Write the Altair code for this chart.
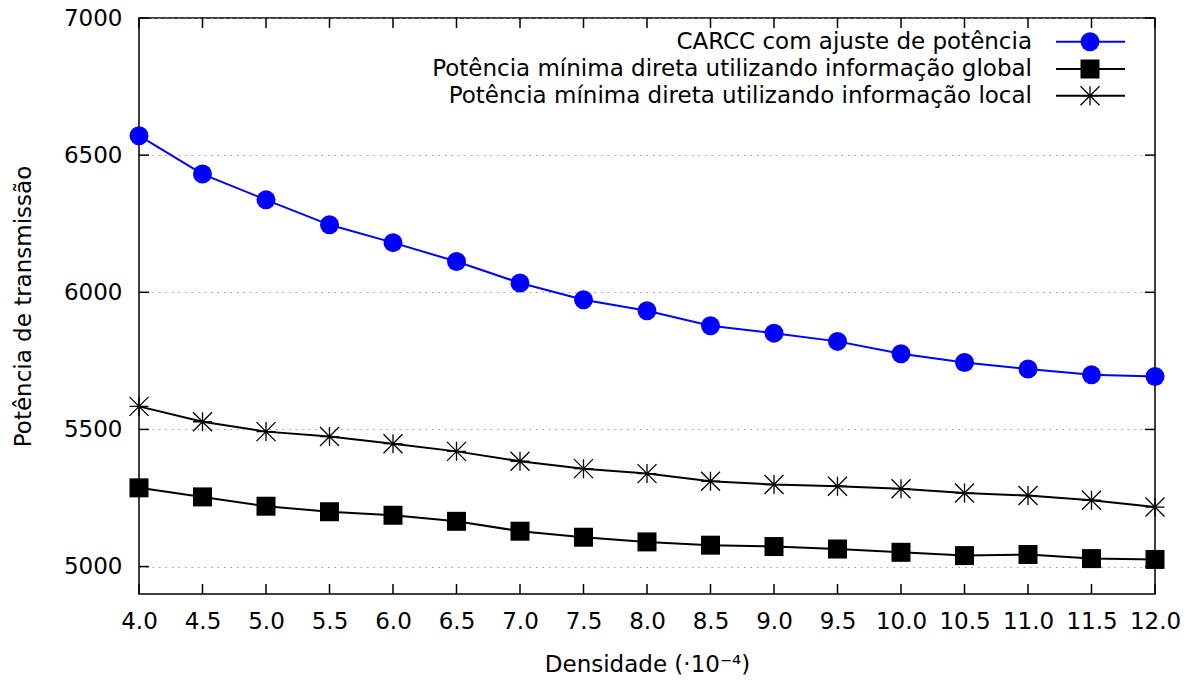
import altair as alt
import pandas as pd

densidade = [4.0, 4.5, 5.0, 5.5, 6.0, 6.5, 7.0, 7.5, 8.0, 8.5, 9.0, 9.5, 10.0, 10.5, 11.0, 11.5, 12.0]
carcc = [6571, 6431, 6337, 6246, 6181, 6112, 6034, 5973, 5933, 5878, 5851, 5821, 5776, 5744, 5720, 5699, 5693]
global_min = [5287, 5254, 5220, 5200, 5187, 5165, 5129, 5107, 5090, 5078, 5073, 5064, 5052, 5040, 5044, 5029, 5026]
local_min = [5584, 5528, 5492, 5474, 5448, 5420, 5384, 5357, 5339, 5311, 5299, 5293, 5284, 5268, 5259, 5242, 5217]

names = [
    "CARCC com ajuste de potência",
    "Potência mínima direta utilizando informação global",
    "Potência mínima direta utilizando informação local",
]
y_ticks = [5000, 5500, 6000, 6500, 7000]

FONT = "DejaVu Sans"
FS = 23
W, H = 1016, 576
STAR = "M-1,-1L1,1M-1,1L1,-1M0,-1L0,1M-1,0L1,0"

xs = alt.Scale(domain=[4, 12], nice=False, zero=False)
ys = alt.Scale(domain=[4900, 7000], nice=False, zero=False)

X = alt.X("x:Q", scale=xs, axis=alt.Axis(
    values=densidade, format=".1f", ticks=False, tickSize=0, domain=False, grid=False,
    labelFont=FONT, labelFontSize=FS, labelColor="black", labelBaseline="middle",
    labelPadding=27, labelFlush=False,
    title="Densidade (·10⁻⁴)", titleFont=FONT, titleFontSize=FS, titleFontWeight="normal",
    titleColor="black", titleX=W / 2, titleY=70, titleBaseline="middle", titleAlign="center"))
Y = alt.Y("y:Q", scale=ys, axis=alt.Axis(
    values=y_ticks, format="d", ticks=False, tickSize=0, domain=False, grid=True,
    gridColor="#999999", gridDash=[1.5, 5], gridWidth=1.2,
    labelFont=FONT, labelFontSize=FS, labelColor="black", labelPadding=17,
    title="Potência de transmissão", titleFont=FONT, titleFontSize=FS, titleFontWeight="normal",
    titleColor="black", titleX=-116, titleY=H / 2, titleAngle=270, titleAlign="center",
    titleBaseline="middle"))

df_c = pd.DataFrame({"x": densidade, "y": carcc})
df_g = pd.DataFrame({"x": densidade, "y": global_min})
df_l = pd.DataFrame({"x": densidade, "y": local_min})

base_grid = alt.Chart(df_c).mark_point(opacity=0).encode(x=X, y=Y)

xt = pd.DataFrame({"x": densidade})
yt = pd.DataFrame({"y": y_ticks})
tick_bot = alt.Chart(xt).mark_rule(color="black", strokeWidth=1.5).encode(
    x=alt.X("x:Q", scale=xs), y=alt.value(H), y2=alt.value(H - 10))
tick_top = alt.Chart(xt).mark_rule(color="black", strokeWidth=1.5).encode(
    x=alt.X("x:Q", scale=xs), y=alt.value(0), y2=alt.value(10))
tick_l = alt.Chart(yt).mark_rule(color="black", strokeWidth=1.5).encode(
    y=alt.Y("y:Q", scale=ys), x=alt.value(0), x2=alt.value(10))
tick_r = alt.Chart(yt).mark_rule(color="black", strokeWidth=1.5).encode(
    y=alt.Y("y:Q", scale=ys), x=alt.value(W - 10), x2=alt.value(W))

def series(df, color, shape, filled, sw, size):
    enc = dict(x=alt.X("x:Q", scale=xs), y=alt.Y("y:Q", scale=ys))
    line = alt.Chart(df).mark_line(color=color, strokeWidth=2).encode(**enc)
    pts = alt.Chart(df).mark_point(shape=shape, filled=filled, color=color, size=size,
                                   strokeWidth=sw, opacity=1).encode(**enc)
    return line + pts

s1 = series(df_c, "#0000ff", "circle", True, 0, 361)
s2 = series(df_g, "black", "square", True, 0, 361)
s3 = series(df_l, "black", STAR, False, 1.3, 361)

# legend (gnuplot style: text on the left, sample on the right)
leg_rows = [23.7, 51, 77.7]
leg_styles = [("#0000ff", "circle", True, 0), ("black", "square", True, 0), ("black", STAR, False, 1.3)]
legend_layers = []
for name, yy, (col, shp, fil, sw) in zip(names, leg_rows, leg_styles):
    d = pd.DataFrame({"t": [name]})
    legend_layers.append(alt.Chart(d).mark_text(
        align="right", baseline="middle", font=FONT, fontSize=FS, color="black").encode(
        text="t:N", x=alt.value(893), y=alt.value(yy)))
    legend_layers.append(alt.Chart(d).mark_rule(color=col, strokeWidth=2).encode(
        x=alt.value(917), x2=alt.value(986), y=alt.value(yy)))
    legend_layers.append(alt.Chart(d).mark_point(
        shape=shp, filled=fil, color=col, size=361, strokeWidth=sw, opacity=1).encode(
        x=alt.value(951), y=alt.value(yy)))

chart = alt.layer(base_grid, tick_bot, tick_top, tick_l, tick_r, s1, s2, s3, *legend_layers).properties(
    width=W, height=H,
    autosize=alt.AutoSizeParams(type="none"),
    padding={"left": 131, "top": 10, "right": 25, "bottom": 82},
    background="white",
).configure_view(stroke="black", strokeWidth=1.5)

chart.save("out.html", embed_options={"renderer": "svg", "actions": False})
